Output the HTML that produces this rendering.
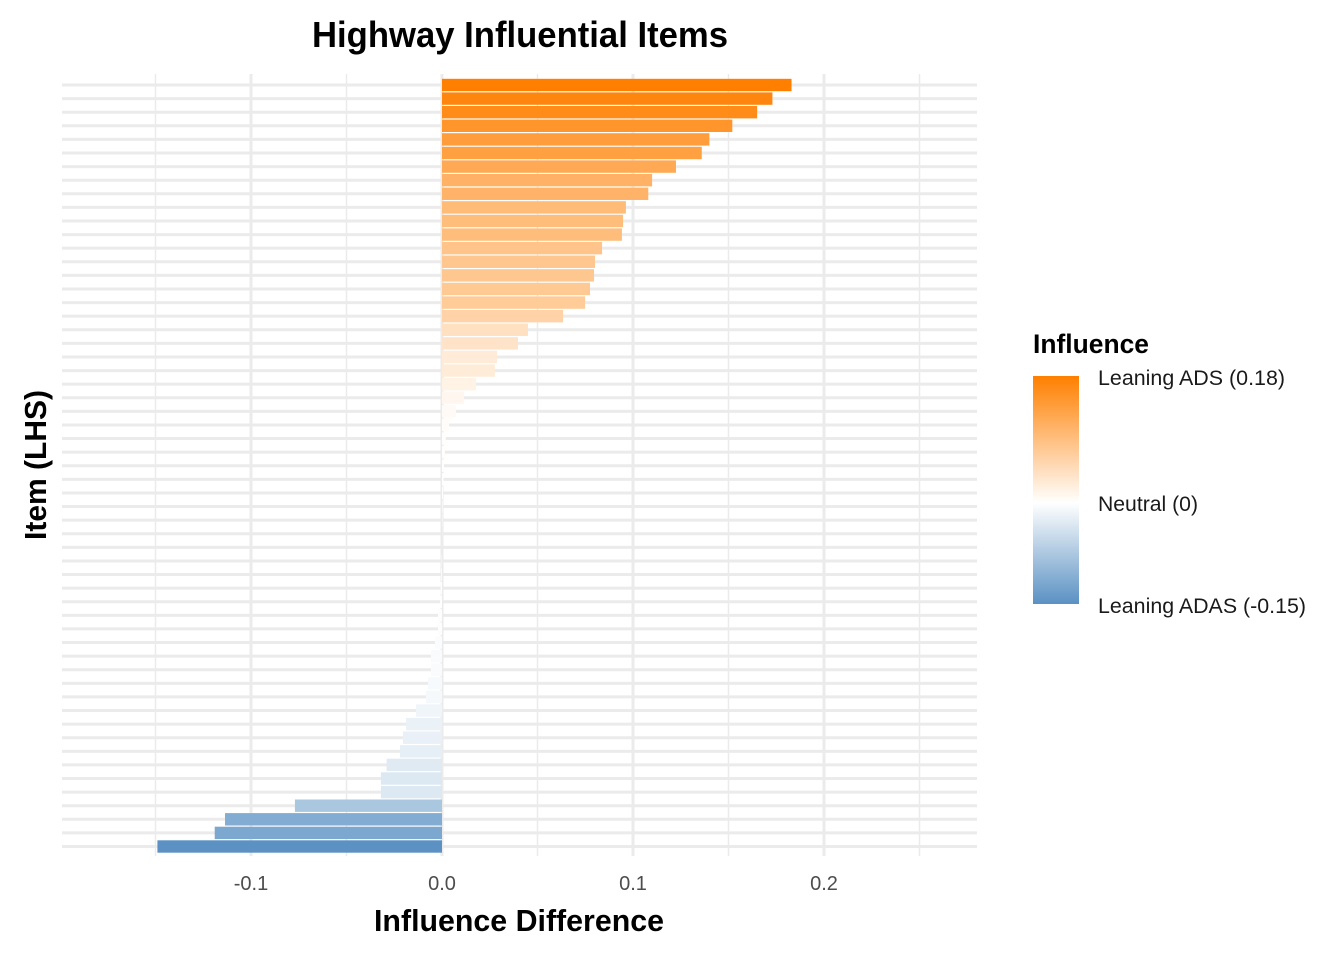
<!DOCTYPE html>
<html><head><meta charset="utf-8"><style>
html,body{margin:0;padding:0;background:#fff;}
svg{display:block;font-family:"Liberation Sans Narrow","Liberation Sans",sans-serif;}
</style></head><body>
<svg id="chart" width="1344" height="960" viewBox="0 0 1344 960">
<defs>
<linearGradient id="lg" x1="0" y1="0" x2="0" y2="1">
<stop offset="0" stop-color="#ff7f00"/><stop offset="0.557" stop-color="#ffffff"/><stop offset="1" stop-color="#5a91c3"/>
</linearGradient>
</defs>
<g id="grid"></g>
<g id="bars"></g>
<g id="xticks"></g>
<text x="520" y="47" text-anchor="middle" font-size="36" font-weight="bold" textLength="416" lengthAdjust="spacingAndGlyphs">Highway Influential Items</text>
<text x="519" y="931" text-anchor="middle" font-size="31" font-weight="bold" textLength="290" lengthAdjust="spacingAndGlyphs">Influence Difference</text>
<text transform="translate(46,465) rotate(-90)" text-anchor="middle" font-size="31" font-weight="bold" textLength="150" lengthAdjust="spacingAndGlyphs">Item (LHS)</text>
<g>
<text x="1033" y="353" font-size="27" font-weight="bold" textLength="116" lengthAdjust="spacingAndGlyphs">Influence</text>
<rect x="1033" y="376" width="46" height="228" fill="url(#lg)"/>
<text x="1098" y="385" font-size="21" fill="#1a1a1a" textLength="187" lengthAdjust="spacingAndGlyphs">Leaning ADS (0.18)</text>
<text x="1098" y="511" font-size="21" fill="#1a1a1a" textLength="100" lengthAdjust="spacingAndGlyphs">Neutral (0)</text>
<text x="1098" y="613" font-size="21" fill="#1a1a1a" textLength="208" lengthAdjust="spacingAndGlyphs">Leaning ADAS (-0.15)</text>
</g>
</svg>
<script>
var values = [0.183,0.173,0.165,0.152,0.140,0.136,0.1225,0.110,0.108,0.0963,0.0948,0.0942,0.0838,0.0801,0.0796,0.0775,0.0749,0.0634,0.0450,0.0398,0.0288,0.0277,0.0178,0.0115,0.0073,0.0037,
0.002,0.0015,0.001,0.0008,0.0005,0.0003,0.0002,0.0001,0,-0.0002,-0.0004,-0.0007,
-0.001,-0.0021,-0.0021,-0.0037,-0.0058,-0.0058,-0.0073,-0.0084,-0.0136,-0.0188,-0.0204,-0.022,-0.029,-0.032,-0.032,-0.077,-0.1136,-0.119,-0.149];
var majorTicks = [-0.1,0.0,0.1,0.2];
var tickLabels = ["-0.1","0.0","0.1","0.2"];
var minorTicks = [-0.15,-0.05,0.05,0.15,0.25];
var colorMin = -0.15, colorMax = 0.183;

var NS="http://www.w3.org/2000/svg";
function x(v){return 442+v*1910;}
var top0=85, bottom0=846.5;
function y(i){return top0+i*(bottom0-top0)/(values.length-1);}
function mk(tag,attrs,parent){var e=document.createElementNS(NS,tag);for(var k in attrs)e.setAttribute(k,attrs[k]);parent.appendChild(e);return e;}
function mix(a,b,t){return a.map(function(c,i){return Math.round(c+(b[i]-c)*t);});}
function color(v){
  var w=[255,255,255];
  var c = v>=0 ? mix(w,[255,127,0],Math.min(1,v/colorMax)) : mix(w,[90,145,195],Math.min(1,-v/-colorMin));
  return "rgb("+c.join(",")+")";
}
var grid=document.getElementById('grid'), bars=document.getElementById('bars'), xt=document.getElementById('xticks');
values.forEach(function(v,i){
  var l=mk('line',{x1:62,x2:977,y1:y(i),y2:y(i),stroke:'#ebebeb','stroke-width':3},grid);
  
  
});
minorTicks.forEach(function(t){
  var l=mk('line',{x1:x(t),x2:x(t),y1:74,y2:856,stroke:'#ebebeb','stroke-width':1.5},grid);
  
  
});
majorTicks.forEach(function(t,k){
  var l=mk('line',{x1:x(t),x2:x(t),y1:74,y2:856,stroke:'#ebebeb','stroke-width':3},grid);
  
  
  var tx=mk('text',{x:x(t),y:890,'text-anchor':'middle','font-size':20,fill:'#4d4d4d'},xt);
  tx.textContent=tickLabels[k];
  
  
});
values.forEach(function(v,i){
  var x0=Math.min(x(0),x(v)), w=Math.abs(x(v)-x(0));
  var r=mk('rect',{x:x0,y:y(i)-6.2,width:Math.max(w,0.01),height:12.4,fill:color(v)},bars);
  
  
});
</script>
</body></html>
